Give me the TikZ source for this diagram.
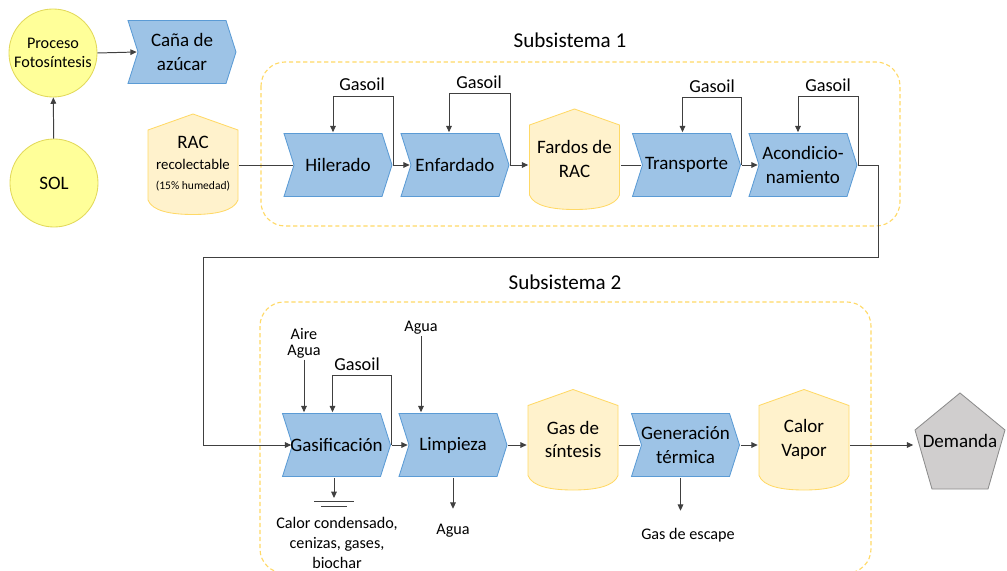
\documentclass[tikz,border=0pt]{standalone}
\usepackage{fontspec}
\setmainfont{Carlito}
\usetikzlibrary{arrows.meta,calc,backgrounds}

\definecolor{chevfill}{HTML}{9DC3E6}
\definecolor{chevline}{HTML}{5B9BD5}
\definecolor{stockfill}{HTML}{FFF2CC}
\definecolor{stockline}{HTML}{FFD966}
\definecolor{sunfill}{HTML}{FFFF99}
\definecolor{sunline}{HTML}{E2D95A}
\definecolor{pentfill}{HTML}{D0CECE}
\definecolor{pentline}{HTML}{8C8C8C}
\definecolor{linecol}{HTML}{404040}

\newcommand\bigtxt{\fontsize{13.5}{16.5}\selectfont}
\newcommand\gastxt{\fontsize{13}{15}\selectfont}
\newcommand\smalltxt{\fontsize{11.5}{14}\selectfont}

% outlines drawn behind the named nodes
\newcommand\chevshape[1]{\path[chevpath, shift={(#1.center)}]
    (-54,-31.5) -- (44,-31.5) -- (54,0) -- (44,31.5) -- (-54,31.5) -- (-44,0) -- cycle;}
\newcommand\stockshape[1]{\path[stockpath, shift={(#1.center)}]
    (0,-50) -- (45,-34) -- (45,36) .. controls (41,47) and (22,50.5) .. (0,50.5)
    .. controls (-22,50.5) and (-41,47) .. (-45,36) -- (-45,-34) -- cycle;}
\newcommand\pentshape[1]{\path[pentpath, shift={(#1.center)}]
    (0,-48) -- (45,-11) -- (28,48) -- (-28,48) -- (-45,-11) -- cycle;}

\begin{document}
\begin{tikzpicture}[
    x=0.025cm, y=-0.025cm,
    chev/.style={minimum width=2.75cm, minimum height=1.625cm, inner sep=0pt, align=center, font=\bigtxt},
    stock/.style={minimum width=2.3cm, minimum height=2.575cm, inner sep=0pt, align=center, font=\bigtxt},
    demand/.style={minimum width=2.325cm, minimum height=2.45cm, inner sep=0pt, font=\bigtxt},
    chevpath/.style={fill=chevfill, draw=chevline, line width=0.6pt},
    stockpath/.style={fill=stockfill, draw=stockline, line width=0.6pt},
    pentpath/.style={fill=pentfill, draw=pentline, line width=0.6pt},
    sun/.style={circle, draw=sunline, fill=sunfill, line width=0.6pt, minimum size=2.2cm, inner sep=0pt, align=center},
    area/.style={draw=stockline, line width=0.8pt, dash pattern=on 3pt off 2pt, rounded corners=0.6cm},
    gaso/.style={font=\gastxt, inner sep=1pt},
    lbl/.style={align=center, font=\smalltxt, inner sep=1pt},
    link/.style={draw=linecol, line width=0.7pt, -{Triangle[length=4.5pt, width=4pt]}},
    wire/.style={draw=linecol, line width=0.7pt}
]
\clip (0,0) rectangle (1007,571);

% subsystem frames
\draw[area] (261,62) rectangle (900,226);
\draw[area] (260,302) rectangle (871,573);
\node[font=\fontsize{15}{18}\selectfont] (sub1) at (570,40) {Subsistema 1};
\node[font=\fontsize{15}{18}\selectfont] (sub2) at (565,282) {Subsistema 2};

% origin of the biomass
\node[sun, font=\smalltxt] (foto) at (53,53) {Proceso\\Fotosíntesis};
\node[sun, font=\bigtxt] (sol) at (54,183) {SOL};
\node[chev] (cana) at (182,52) {Caña de\\azúcar};
\draw[link] (sol) -- (foto);
\draw[link] (foto.east) -- ($(cana.west)+(10,0)$);

% subsystem 1: collection and conditioning
\node[stock] (rac) at (193,164) {RAC\\[-2pt]{\fontsize{10.5}{12.5}\selectfont recolectable}\\[-2pt]{\fontsize{8.2}{10}\selectfont (15\% humedad)}};
\node[chev] (hil) at (338,165) {Hilerado};
\node[chev] (enf) at (455,165) {Enfardado};
\node[stock] (far) at (574.5,159) {Fardos de\\RAC};
\node[chev] (tra) at (686.5,165) {Transporte};
\node[chev] (aco) at (803,165) {Acondicio-\\namiento};

\draw[wire] (rac.east |- hil) -- ($(hil.west)+(10,0)$);
\draw[link] (hil.east) -- ($(enf.west)+(10,0)$);
\draw[link] (enf.east) -- (enf.east -| far.west);
\draw[wire] (far.east |- tra) -- ($(tra.west)+(10,0)$);
\draw[link] (tra.east) -- ($(aco.west)+(10,0)$);

% fuel loops
\node[gaso] (g1) at (362,84) {Gasoil};
\node[gaso] (g2) at (479,82) {Gasoil};
\node[gaso] (g3) at (712,86) {Gasoil};
\node[gaso] (g4) at (828,85) {Gasoil};
\draw[link] (hil.east) -- ++(0,-69) -| ($(hil.north)+(-5,0)$);
\draw[link] (enf.east) -- ++(0,-72) -| ($(enf.north)+(-6,0)$);
\draw[link] (tra.east) -- ++(0,-68) -| ($(tra.north)+(-4,0)$);
\draw[link] (aco.east) -- ++(0,-69) -| ($(aco.north)+(-5,0)$);

% subsystem 2: conversion
\node[chev] (gas) at (336.5,445) {Gasificación};
\node[chev] (lim) at (453,445) {Limpieza};
\node[stock] (sin) at (573,439.5) {Gas de\\síntesis};
\node[chev] (gen) at (685.5,445) {Generación\\térmica};
\node[stock] (cal) at (804,439.5) {Calor\\Vapor};
\node[demand] (dem) at (960,441) {Demanda};

% bales go on to the gasifier
\coordinate (ret) at (203,257);
\draw[link] (aco.east) -- ++(20,0) |- (ret) |- ($(gas.west)+(10,0)$);

\draw[link] (gas.east) -- ($(lim.west)+(10,0)$);
\draw[link] (lim.east) -- (lim.east -| sin.west);
\draw[wire] (sin.east |- gen) -- ($(gen.west)+(10,0)$);
\draw[link] (gen.east) -- (gen.east -| cal.west);
\draw[link] (cal.east |- gen) -- (dem.west |- gen);

\node[gaso] (g5) at (357,364) {Gasoil};
\draw[link] (gas.east) -- ++(0,-70) -| ($(gas.north)+(-4,0)$);

% inputs and outputs
\node[lbl, font=\fontsize{11.5}{11.5}\selectfont] (aire) at (304,343) {Aire\\Agua};
\draw[link] (aire.south) -- (aire.south |- gas.north);
\node[lbl] (agua1) at (421,328) {Agua};
\draw[link] (agua1.south) -- (agua1.south |- lim.north);

\coordinate (gnd) at (334,498);
\draw[link] (gas.south -| gnd) -- (gnd);
\draw[wire] ($(gnd)+(-20,3)$) -- ($(gnd)+(20,3)$);
\draw[wire] ($(gnd)+(-13,8)$) -- ($(gnd)+(13,8)$);
\node[lbl] (resid) at (337,543) {Calor condensado,\\cenizas, gases,\\biochar};

\node[lbl] (agua2) at (453,531) {Agua};
\draw[link] (lim.south) -- ++(0,31);
\node[lbl] (escape) at (688,535) {Gas de escape};
\draw[link] ($(gen.south)+(-5,0)$) -- ++(0,33);

% shapes behind the texts
\begin{scope}[on background layer]
  \foreach \n in {cana,hil,enf,tra,aco,gas,lim,gen} {\chevshape{\n}}
  \foreach \n in {rac,far,sin,cal} {\stockshape{\n}}
  \pentshape{dem}
\end{scope}
\end{tikzpicture}
\end{document}
